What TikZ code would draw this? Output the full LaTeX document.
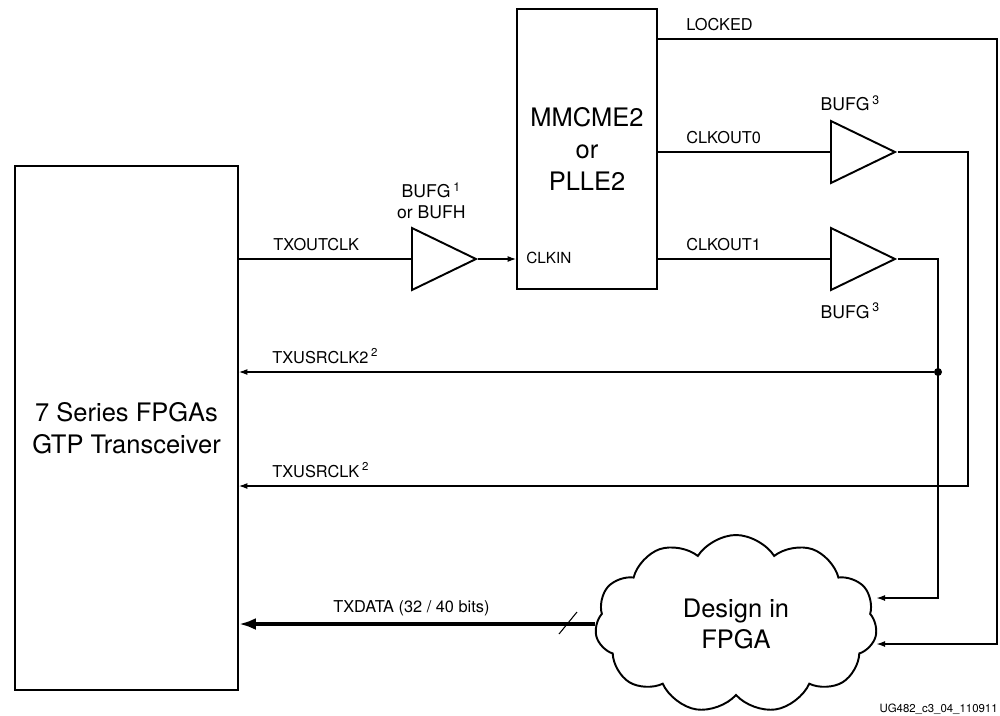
\documentclass[tikz,border=0pt]{standalone}
\usepackage{fontspec}
\setmainfont{TeX Gyre Heros}
\usetikzlibrary{shapes.geometric, shapes.symbols, arrows.meta, positioning}

\begin{document}
\begin{tikzpicture}[
    x=0.2mm, y=-0.2mm,
    block/.style={draw, line width=1.1pt, inner sep=0pt, align=center, font=\fontsize{14.5}{18}\selectfont},
    buffer/.style={isosceles triangle, isosceles triangle stretches, draw, line width=1.1pt, inner sep=0pt, minimum width=12.4mm, minimum height=12.8mm},
    wire/.style={line width=0.6pt},
    arrow/.style={wire, -{Latex[length=1.7mm, width=1.2mm]}},
    bus/.style={line width=2.2pt, -{Latex[length=3.4mm, width=2.4mm]}},
    sig/.style={font=\fontsize{9.3}{11}\selectfont, inner sep=0pt},
    buflbl/.style={font=\fontsize{10}{12}\selectfont, inner sep=0pt, align=center},
    tap/.style={circle, fill, inner sep=0pt, minimum size=1.6mm}
]
\useasboundingbox (0,0) rectangle (1000,715);

% Blocks
\node[block, minimum width=44.6mm, minimum height=104.8mm] (fpga) at (126.5,428) {7 Series FPGAs\\GTP Transceiver};
\node[block, minimum width=28mm, minimum height=56mm] (mmcm) at (587,149) {MMCME2\\or\\PLLE2};
\node[cloud, draw, line width=1.1pt, cloud puffs=11, cloud puff arc=115, aspect=1.55,
      minimum width=56.4mm, minimum height=35.6mm, align=center,
      font=\fontsize{14.5}{18}\selectfont] (design) at (736,624) {Design in\\FPGA};

% Buffers
\node[buffer, anchor=lower side] (buf1) at (411,259) {};
\node[buffer, anchor=lower side] (buf2) at (830,152) {};
\node[buffer, anchor=lower side] (buf3) at (830,259) {};
\node[buflbl, above=3.4mm of buf1] (buf1lbl) {BUFG\,\textsuperscript{1}\\or BUFH};
\node[buflbl, above=3.6mm of buf2] (buf2lbl) {BUFG\,\textsuperscript{3}};
\node[buflbl, below=4.2mm of buf3] (buf3lbl) {BUFG\,\textsuperscript{3}};

% Turn points on the right
\coordinate (lockR) at (997,39);
\coordinate (c0R) at (968,486);
\coordinate (c1R) at (938,598);
\node[tap] (tap2) at (938,372) {};

% TXOUTCLK into the MMCM
\draw[wire] (fpga.east |- buf1.lower side) -- (buf1.lower side);
\draw[arrow] (buf1.apex) -- (mmcm.west |- buf1.apex);
\node[sig, anchor=base west] (txout) at (273,250) {TXOUTCLK};
\node[sig, font=\fontsize{8.7}{10}\selectfont, anchor=west] (clkin) at (526,258) {CLKIN};

% MMCM outputs
\draw[wire] (mmcm.east |- buf2.lower side) -- (buf2.lower side);
\draw[wire] (mmcm.east |- buf3.lower side) -- (buf3.lower side);
\draw[arrow] (mmcm.east |- lockR) -- (lockR) |- (design.east |- 0,644);
\node[sig, anchor=base west] (locked) at (686,30) {LOCKED};
\node[sig, anchor=base west] (clkout0) at (686,143) {CLKOUT0};
\node[sig, anchor=base west] (clkout1) at (686,250) {CLKOUT1};

% user clocks back to the transceiver
\draw[arrow] (buf2.apex) -| (c0R) -- (fpga.east |- c0R);
\draw[arrow] (buf3.apex) -| (c1R) -- (design.east |- c1R);
\draw[arrow] (tap2) -- (fpga.east |- tap2);
\node[sig, anchor=base west] (usr2) at (272,363) {TXUSRCLK2\,\textsuperscript{2}};
\node[sig, anchor=base west] (usr1) at (272,477) {TXUSRCLK\,\textsuperscript{2}};

% data bus
\draw[bus] (design.west) -- (fpga.east |- design.west);
\coordinate (slash) at (568,623);
\draw[wire] ([shift={(-9,11)}]slash) -- ([shift={(9,-11)}]slash);
\node[sig, anchor=base west] (txdata) at (333,612) {TXDATA (32 / 40 bits)};

\node[font=\fontsize{6.5}{7}\selectfont, anchor=base east, inner sep=0pt] (ugid) at (998,712) {UG482\_c3\_04\_110911};

\end{tikzpicture}
\end{document}
